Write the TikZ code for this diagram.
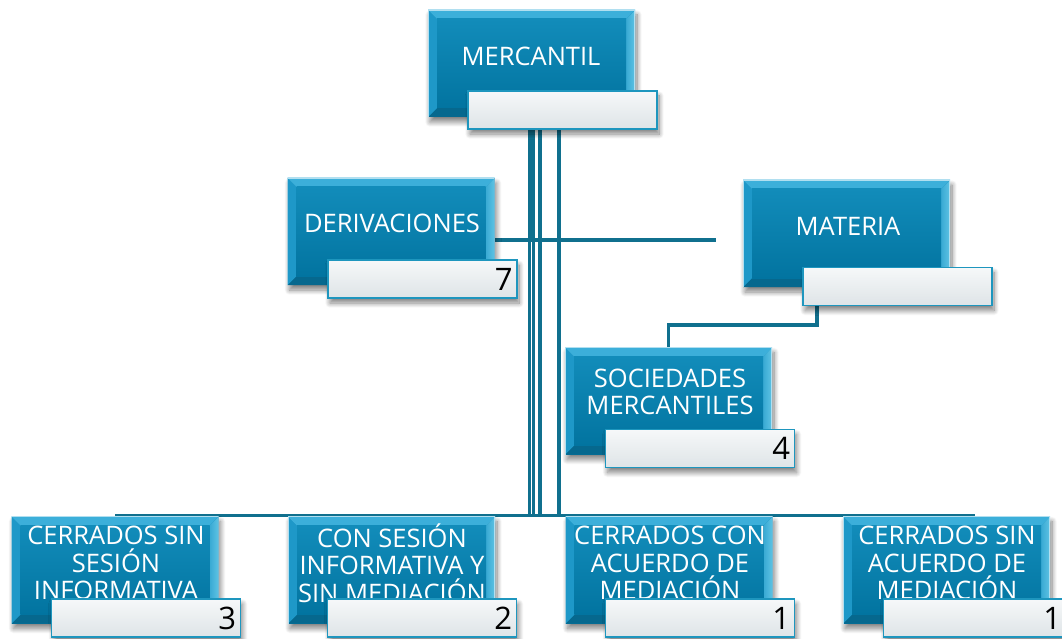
\documentclass[tikz,border=0pt]{standalone}
\usepackage{fontspec}
\setmainfont{Open Sans}
\usetikzlibrary{shadows.blur,calc}
\definecolor{conncol}{RGB}{16,112,142}
\definecolor{faceT}{RGB}{18,140,186}
\definecolor{faceB}{RGB}{2,116,160}
\definecolor{bevT}{RGB}{60,175,218}
\definecolor{bevL}{RGB}{30,152,200}
\definecolor{bevR}{RGB}{95,195,228}
\definecolor{bevB}{RGB}{6,104,142}
\definecolor{subline}{RGB}{30,150,190}
\definecolor{subT}{RGB}{246,248,249}
\definecolor{subB}{RGB}{222,228,231}
\tikzset{
  conn/.style={draw=conncol, line width=3.6pt},
  bluebox/.style={rectangle, minimum width=207pt, minimum height=107pt, inner sep=0pt,
    fill=faceB,
    blur shadow={shadow xshift=2pt, shadow yshift=-5pt, shadow blur steps=10, shadow blur radius=5pt, shadow opacity=50},
    path picture={
      \coordinate (pnw) at (path picture bounding box.north west);
      \coordinate (pne) at (path picture bounding box.north east);
      \coordinate (psw) at (path picture bounding box.south west);
      \coordinate (pse) at (path picture bounding box.south east);
      \fill[bevB] (psw) -- (pse) -- ([shift={(-9pt,9pt)}]pse) -- ([shift={(9pt,9pt)}]psw) -- cycle;
      \fill[bevL] (pnw) -- (psw) -- ([shift={(9pt,9pt)}]psw) -- ([shift={(9pt,-9pt)}]pnw) -- cycle;
      \shade[left color=bevL!60!bevR, right color=bevR] (pne) -- (pse) -- ([shift={(-9pt,9pt)}]pse) -- ([shift={(-9pt,-9pt)}]pne) -- cycle;
      \fill[bevT] (pnw) -- (pne) -- ([shift={(-9pt,-9pt)}]pne) -- ([shift={(9pt,-9pt)}]pnw) -- cycle;
      \shade[top color=faceT, bottom color=faceB] ([shift={(9pt,-9pt)}]pnw) rectangle ([shift={(-9pt,9pt)}]pse);
      \draw[white!60!bevT, line width=1.2pt] (psw) -- (pnw) -- (pne) -- (pse);
    }},
  subbox/.style={rectangle, minimum width=189pt, minimum height=38pt, inner sep=0pt,
    draw=subline, line width=1.6pt, top color=subT, bottom color=subB,
    blur shadow={shadow xshift=2pt, shadow yshift=-5pt, shadow blur steps=10, shadow blur radius=5pt, shadow opacity=50}},
  boxtext/.style={text=white, align=center, inner sep=0pt, font=\fontsize{25.5}{27.5}\selectfont},
  numtext/.style={text=black, anchor=east, inner sep=0pt, font=\fontsize{31}{32}\selectfont}
}
\begin{document}
\begin{tikzpicture}[x=1pt,y=-1pt]
\useasboundingbox (0,0) rectangle (1062,639);
\clip (0,0) rectangle (1062,639);
% connector anchor coordinates
\coordinate (bus1) at (115,515.5);
\coordinate (busR) at (975,515.5);
\coordinate (dend) at (716,240);
\coordinate (dstart) at (495,240);
\coordinate (socn) at (668.5,347.5);
% connectors (drawn behind the boxes)
\draw[conn] (bus1) -- (busR);
\foreach \xx in {529.5,533.5,540,559}{
  \draw[conn] (\xx,129) -- (\xx,515.5);
}
\draw[conn, line width=6pt] (531.5,129) -- (531.5,240);
\draw[conn] (dstart) -- (dend);
\draw[conn] (817,300) -- (817,325) -| (socn);
% boxes
\path
  (531.5,63.5) node[bluebox] (merc) {}
  (391,231.5) node[bluebox] (deriv) {}
  (846.5,233.5) node[bluebox] (mat) {}
  (668.5,401) node[bluebox] (soc) {}
  (115,570) node[bluebox] (b1) {}
  (391.5,570) node[bluebox] (b2) {}
  (669,570) node[bluebox] (b3) {}
  (946.5,570) node[bluebox] (b4) {};
% texts
\node[boxtext] (tmerc) at (531,56) {MERCANTIL};
\node[boxtext] (tderiv) at (392,223) {DERIVACIONES};
\node[boxtext] (tmat) at (848,226) {MATERIA};
\node[boxtext] (tsoc) at (670,392) {SOCIEDADES\\MERCANTILES};
\node[boxtext] (tb1) at (116,563) {CERRADOS SIN\\SESIÓN\\INFORMATIVA};
\node[boxtext] (tb2) at (392,563) {CON SESIÓN\\INFORMATIVA Y\\SIN MEDIACIÓN};
\node[boxtext] (tb3) at (670,563) {CERRADOS CON\\ACUERDO DE\\MEDIACIÓN};
\node[boxtext] (tb4) at (947,563) {CERRADOS SIN\\ACUERDO DE\\MEDIACIÓN};
% sub boxes
\node[subbox] (msub) at (562.5,110) {};
\node[subbox] (dsub) at (422.5,279) {};
\node[subbox] (matsub) at (897.5,286.5) {};
\node[subbox] (socsub) at (700,448.5) {};
\node[subbox] (s1) at (146,618) {};
\node[subbox] (s2) at (422,618) {};
\node[subbox] (s3) at (700,618) {};
\node[subbox] (s4) at (978,618) {};
% numbers
\node[numtext] (n7) at ([xshift=-5pt]dsub.east) {7};
\node[numtext] (n4) at ([xshift=-5pt]socsub.east) {4};
\node[numtext] (n3) at ([xshift=-5pt]s1.east) {3};
\node[numtext] (n2) at ([xshift=-5pt]s2.east) {2};
\node[numtext] (n1a) at ([xshift=-5pt]s3.east) {1};
\node[numtext] (n1b) at ([xshift=-12pt]s4.east) {1};
\end{tikzpicture}
\end{document}
